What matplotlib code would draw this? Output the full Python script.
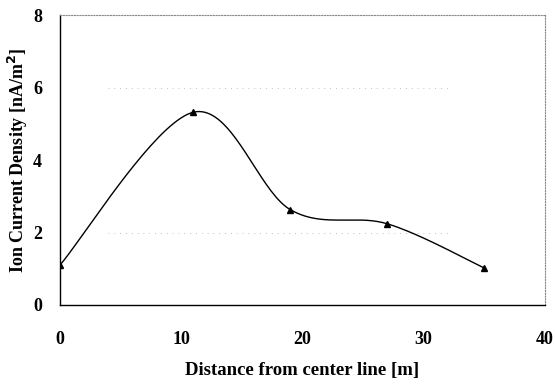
import matplotlib
matplotlib.use("Agg")
import matplotlib.pyplot as plt
import numpy as np

# data
distance = [0, 11, 19, 27, 35]
current = [1.10, 5.32, 2.63, 2.24, 1.02]
x_ticks = [0, 10, 20, 30, 40]
y_ticks = [0, 2, 4, 6, 8]
grid_levels = [2, 6]


def excel_smooth(x, y, n=40):
    """Bezier smoothing like a spreadsheet 'smoothed line'."""
    x = np.asarray(x, float)
    y = np.asarray(y, float)
    px = np.concatenate([[x[0]], x, [x[-1]]])
    py = np.concatenate([[y[0]], y, [y[-1]]])
    xs, ys = [], []
    t = np.linspace(0, 1, n)
    for i in range(1, len(px) - 2):
        p0 = np.array([px[i], py[i]])
        p3 = np.array([px[i + 1], py[i + 1]])
        p1 = p0 + (np.array([px[i + 1], py[i + 1]]) - np.array([px[i - 1], py[i - 1]])) / 6
        p2 = p3 - (np.array([px[i + 2], py[i + 2]]) - np.array([px[i], py[i]])) / 6
        b = ((1 - t) ** 3)[:, None] * p0 + (3 * (1 - t) ** 2 * t)[:, None] * p1 \
            + (3 * (1 - t) * t ** 2)[:, None] * p2 + (t ** 3)[:, None] * p3
        xs.append(b[:, 0])
        ys.append(b[:, 1])
    return np.concatenate(xs), np.concatenate(ys)


plt.rcParams["font.family"] = ["Liberation Serif", "DejaVu Serif"]

fig = plt.figure(figsize=(5.55, 3.88), dpi=100)
ax = fig.add_axes([0.108, 0.214, 0.874, 0.747])

for yv in grid_levels:
    ax.axhline(yv, xmin=0.1, xmax=0.8, color="#aaaaaa", linewidth=0.6,
               linestyle=(0, (1, 6)), zorder=0)

sx, sy = excel_smooth(distance, current)
ax.plot(sx, sy, color="black", linewidth=1.0)
ax.plot(distance, current, linestyle="none", marker="^", markersize=4.5, color="black")

ax.set_xlim(0, 40)
ax.set_ylim(0, 8)
ax.set_xticks(x_ticks)
ax.set_yticks(y_ticks)
ax.tick_params(length=0, labelsize=13)
ax.tick_params(axis="x", pad=19)
ax.tick_params(axis="y", pad=13)
for lbl in ax.get_xticklabels() + ax.get_yticklabels():
    lbl.set_fontweight("bold")

ax.spines["left"].set_linewidth(1.0)
ax.spines["bottom"].set_linewidth(1.0)
for side in ("top", "right"):
    ax.spines[side].set_color("#888888")
    ax.spines[side].set_linewidth(0.8)
    ax.spines[side].set_linestyle((0, (1, 1.5)))

ax.set_xlabel("Distance from center line [m]", fontsize=13.5, fontweight="bold", labelpad=10)
ax.set_ylabel("Ion Current Density [nA/m$^\\mathbf{2}$]", fontsize=13, fontweight="bold", labelpad=2)

fig.savefig("out.png", dpi=100)
